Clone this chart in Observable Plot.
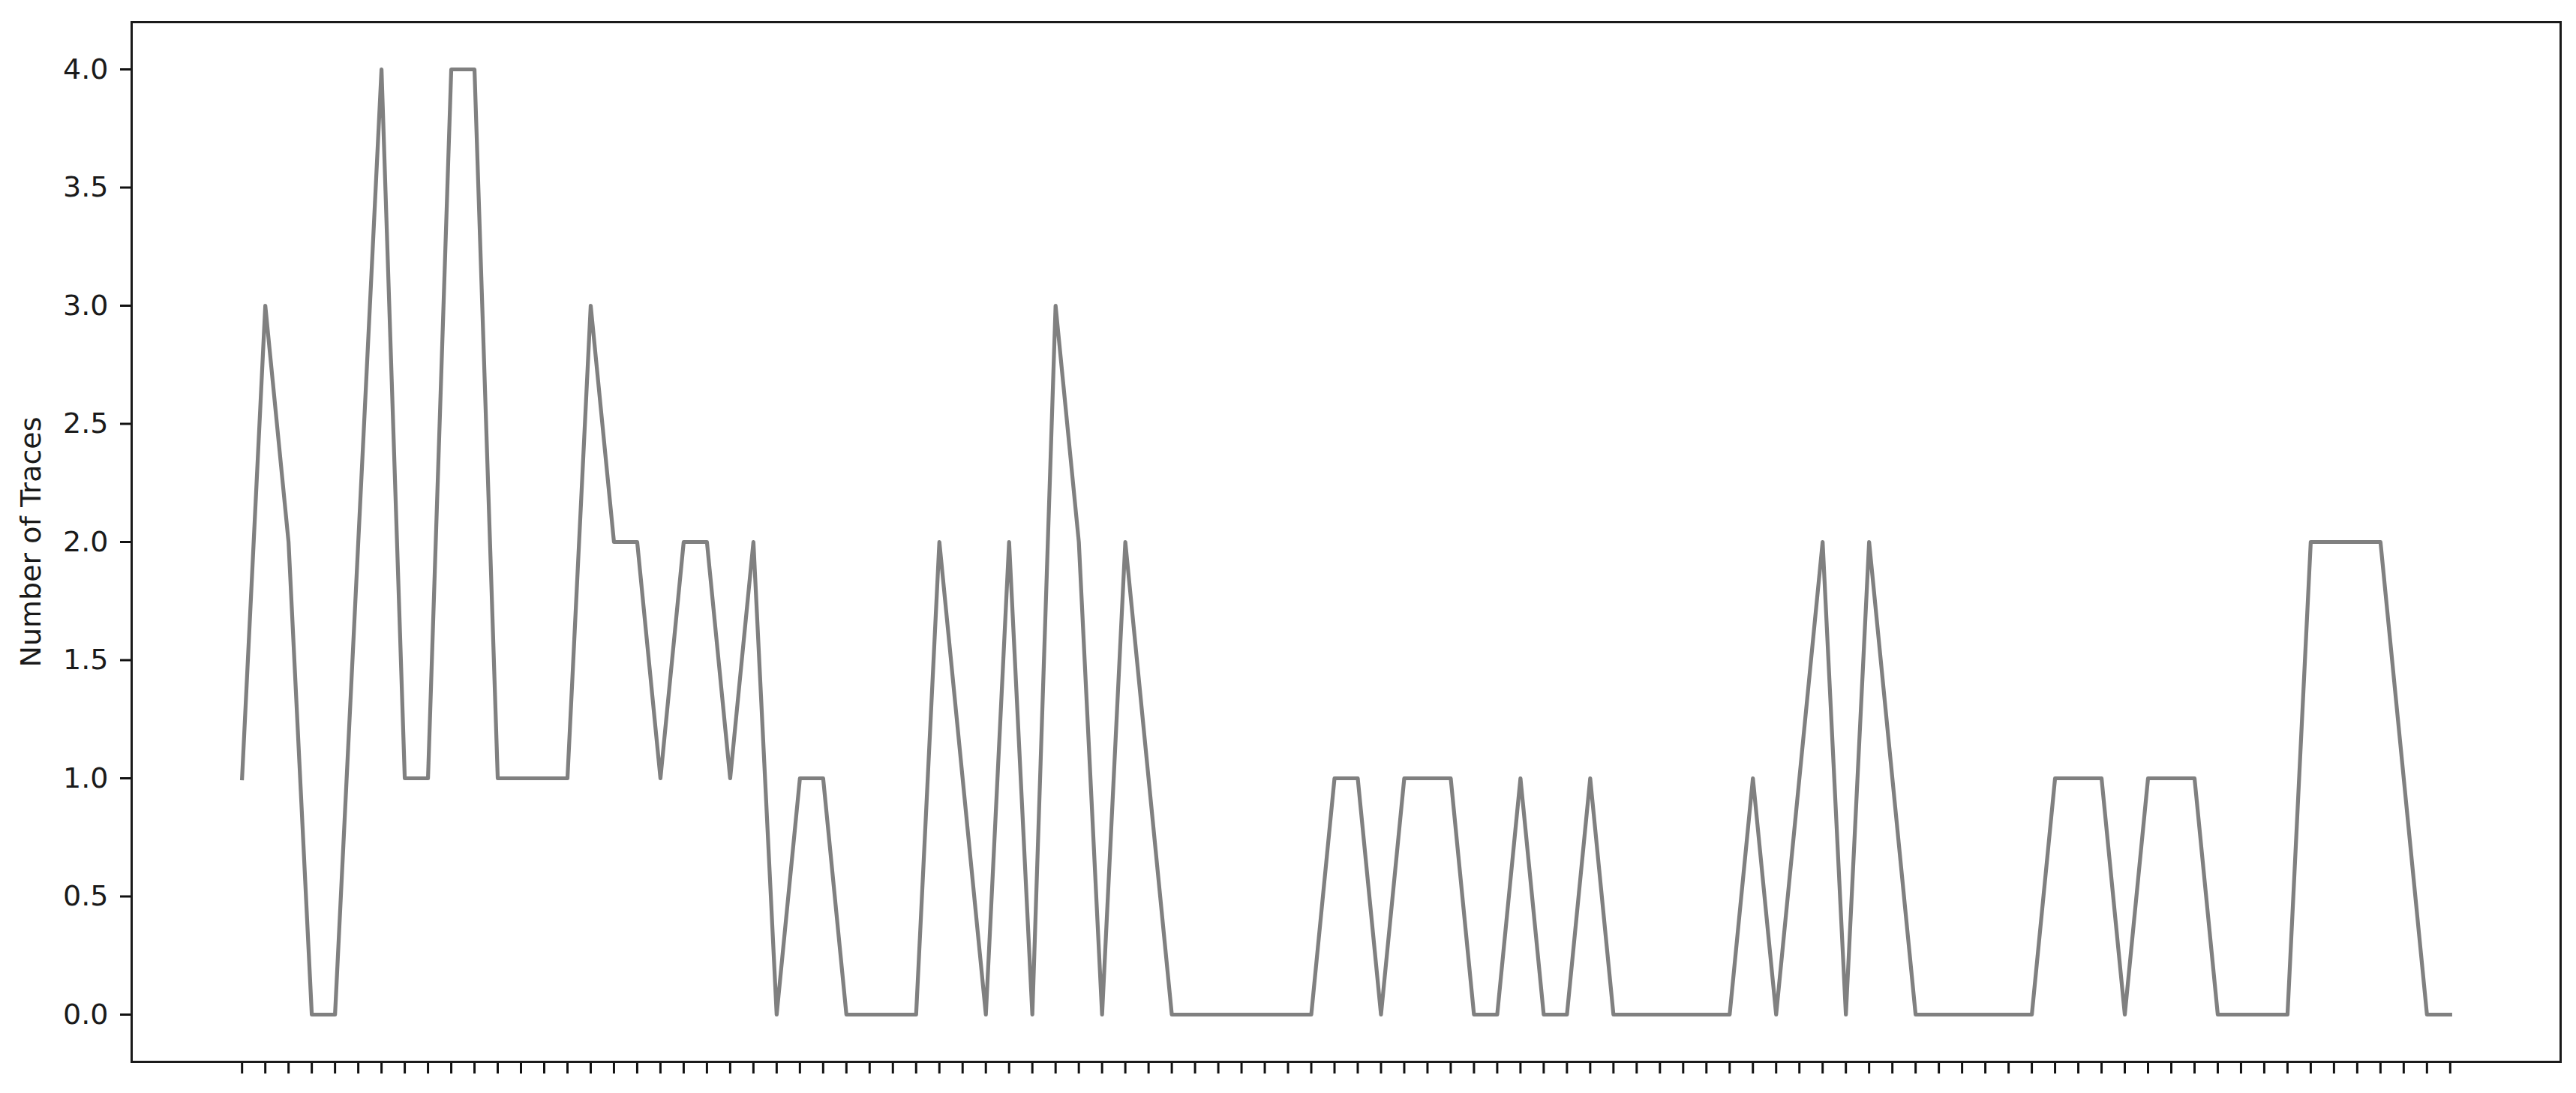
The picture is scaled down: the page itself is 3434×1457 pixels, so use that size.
<!DOCTYPE html>
<html>
<head>
<meta charset="utf-8">
<script src="https://cdn.jsdelivr.net/npm/d3@7"></script>
<script src="https://cdn.jsdelivr.net/npm/@observablehq/plot@0.6"></script>
<style>
  html, body { margin: 0; padding: 0; background: #fff; }
  #chart svg { display: block; }
</style>
</head>
<body>
<div id="chart"></div>
<script>
// Series values: number of traces per sample
const traceCounts = [
  1, 3, 2, 0, 0, 2, 4, 1, 1, 4,
  4, 1, 1, 1, 1, 3, 2, 2, 1, 2,
  2, 1, 2, 0, 1, 1, 0, 0, 0, 0,
  2, 1, 0, 2, 0, 3, 2, 0, 2, 1,
  0, 0, 0, 0, 0, 0, 0, 1, 1, 0,
  1, 1, 1, 0, 0, 1, 0, 0, 1, 0,
  0, 0, 0, 0, 0, 1, 0, 1, 2, 0,
  2, 1, 0, 0, 0, 0, 0, 0, 1, 1,
  1, 0, 1, 1, 1, 0, 0, 0, 0, 2,
  2, 2, 2, 1, 0, 0
];
// Categories: sample positions along x (unlabelled ticks)
const sampleIndex = traceCounts.map((_, i) => i);
// Y tick values
const yTicks = [0, 0.5, 1, 1.5, 2, 2.5, 3, 3.5, 4];
const yLabel = "Number of Traces";

const rows = sampleIndex.map((x, i) => ({x, y: traceCounts[i]}));

const FONT = "DejaVu Sans, sans-serif";
const FS = 38;

const chart = Plot.plot({
  width: 3434,
  height: 1457,
  marginLeft: 175,
  marginRight: 21,
  marginTop: 29,
  marginBottom: 42,
  style: {fontFamily: FONT, fontSize: FS + "px", color: "#000", background: "#fff"},
  x: {domain: [-4.75, 99.75], axis: null},
  y: {domain: [-0.2, 4.2], axis: null},
  marks: [
    Plot.line(rows, {x: "x", y: "y", stroke: "#808080", strokeWidth: 5.2, strokeLinejoin: "round", strokeLinecap: "square"}),
    Plot.axisX({ticks: sampleIndex, tickSize: 16, tickFormat: () => "", strokeWidth: 3, stroke: "#111", label: null}),
    Plot.axisY({ticks: yTicks, tickSize: 15, tickPadding: 16, strokeWidth: 3, stroke: "#111",
      tickFormat: d3.format(".1f"), fontSize: FS, fill: "#1a1a1a", label: null}),
    Plot.text([yLabel], {text: d => d, frameAnchor: "left", dx: -134, rotate: -90,
      textAnchor: "middle", lineAnchor: "middle", fontSize: FS, fill: "#1a1a1a"}),
    Plot.frame({stroke: "#1a1a1a", strokeWidth: 3})
  ]
});
document.getElementById("chart").appendChild(chart);
</script>
</body>
</html>
